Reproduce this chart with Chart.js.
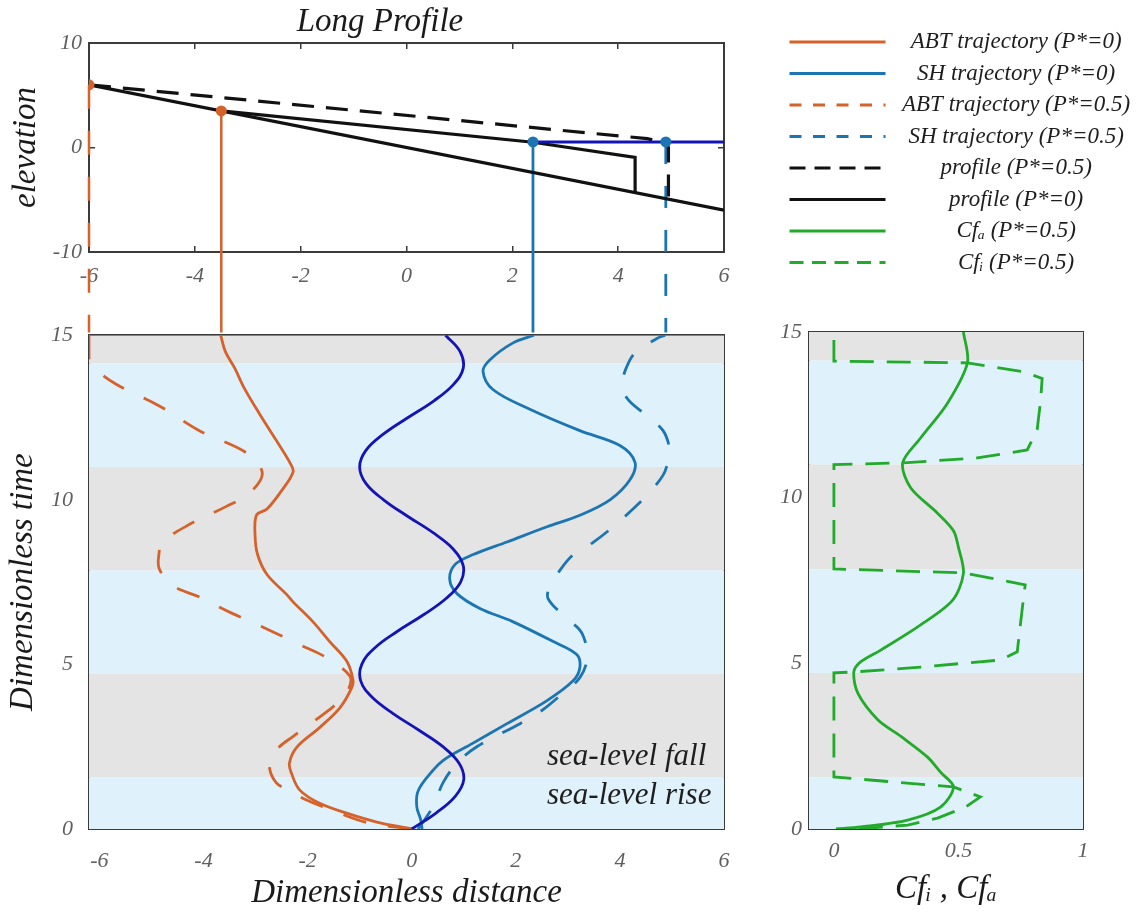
<!DOCTYPE html>
<html>
<head>
<meta charset="utf-8">
<title>Long profile and shoreline trajectories</title>
<script src="https://cdn.jsdelivr.net/npm/chart.js@4.4.1/dist/chart.umd.min.js"></script>
<style>
  html, body { margin: 0; padding: 0; background: #fff; }
  #wrap { position: relative; width: 1138px; height: 913px; overflow: hidden; }
  #wrap canvas { position: absolute; }
</style>
</head>
<body>
<div id="wrap">
  <canvas id="profile" width="760" height="345" style="left:0;top:0"></canvas>
  <canvas id="traj" width="760" height="613" style="left:0;top:300px"></canvas>
  <canvas id="cf" width="378" height="613" style="left:760px;top:300px"></canvas>
  <canvas id="legend" width="760" height="270" style="left:781px;top:22px"></canvas>
</div>
<script>
// ---- perfil longitudinal (painel de cima) ----
const profileTicksX = [-6, -4, -2, 0, 2, 4, 6];
const profileTicksY = [-10, 0, 10];
const basementX = [-6, 6];
const basementY = [6, -6];
const profile0X = [-3.5, 2.39, 4.32, 4.32];
const profile0Y = [3.5, 0.5, -0.95, -4.32];
const profile05X = [-6, 4.55, 4.9, 4.95, 4.95];
const profile05Y = [6, 0.85, 0.4, 0, -4.95];
const seaLineX = [2.39, 6];
const seaLineY = [0.53, 0.53];
const abtDotX = [-6, -3.5];     // P*=0.5 , P*=0
const abtDotY = [6, 3.5];
const shDotX = [2.39, 4.9];     // P*=0 , P*=0.5
const shDotY = [0.53, 0.53];
const dropTo = -17.7;           // elevação equivalente ao topo dos painéis de baixo

// ---- trajetórias (painel de baixo, esquerda) ----
const distTicks = [-6, -4, -2, 0, 2, 4, 6];
const timeTicks = [0, 5, 10, 15];
const bandEdges = [0, 1.57, 4.71, 7.85, 11.0, 14.14, 15];
const bandPhase = ['rise', 'fall', 'rise', 'fall', 'rise', 'fall'];

const abt0T = [0, 0.21, 0.48, 0.78, 1.18, 1.69, 2.0, 2.48, 3.08, 3.68, 4.3, 4.55, 5.1, 5.7, 6.3, 6.9, 7.12, 7.73, 8.33, 8.93, 9.54, 9.72, 10.32, 10.84, 11.1, 11.8, 12.6, 13.4, 14.0, 14.5, 15];
const abt0X = [0, -0.67, -1.25, -1.77, -2.15, -2.31, -2.35, -2.21, -1.77, -1.38, -1.15, -1.13, -1.25, -1.58, -1.9, -2.28, -2.4, -2.78, -2.96, -3.01, -2.98, -2.78, -2.48, -2.28, -2.33, -2.6, -2.92, -3.22, -3.4, -3.58, -3.67];

const abt05T = [0, 0.2, 0.63, 0.88, 1.2, 1.4, 1.84, 2.2, 2.5, 2.8, 3.4, 3.9, 4.3, 4.65, 5.2, 5.6, 6.2, 6.55, 6.9, 7.06, 7.4, 7.9, 8.3, 8.7, 9.2, 9.8, 10.2, 10.8, 11.4, 12.1, 12.85, 13.5, 13.95, 14.3, 15];
const abt05X = [0, -0.87, -1.63, -2.02, -2.4, -2.6, -2.73, -2.68, -2.54, -2.29, -1.77, -1.38, -1.2, -1.19, -1.63, -2.15, -2.95, -3.45, -3.9, -4.1, -4.6, -4.85, -4.86, -4.79, -4.33, -3.56, -3.12, -2.87, -3.15, -4.08, -4.85, -5.67, -6.06, -6.2, -6.2];

const sh0T = [0, 0.3, 0.65, 1.1, 1.5, 2.08, 2.6, 3.2, 3.9, 4.5, 4.9, 5.3, 5.7, 6.3, 6.7, 7.15, 7.58, 8.03, 8.33, 8.72, 9.18, 9.53, 10.0, 10.6, 11.14, 11.65, 12.1, 12.75, 13.35, 13.9, 14.25, 14.76, 15];
const sh0X = [0.2, 0.17, 0.1, 0.11, 0.26, 0.6, 1.17, 1.83, 2.6, 3.1, 3.23, 3.17, 2.71, 1.94, 1.31, 0.87, 0.73, 0.83, 1.17, 1.83, 2.6, 3.23, 3.81, 4.19, 4.29, 4.0, 3.23, 2.27, 1.56, 1.37, 1.5, 1.94, 2.35];

const sh05T = [0, 0.4, 0.78, 1.4, 2.0, 2.5, 3.2, 3.6, 4.05, 4.6, 5.2, 5.95, 6.4, 7.0, 7.4, 7.73, 8.3, 8.7, 9.18, 9.63, 10.14, 10.75, 11.2, 11.5, 12.1, 12.6, 13.1, 13.6, 14.0, 14.46, 14.9, 15];
const sh05X = [0.12, 0.3, 0.44, 0.6, 0.87, 1.25, 2.08, 2.5, 2.85, 3.23, 3.37, 3.27, 2.98, 2.62, 2.66, 2.79, 3.08, 3.48, 3.87, 4.19, 4.52, 4.83, 4.93, 4.96, 4.83, 4.48, 4.13, 4.06, 4.12, 4.29, 4.71, 4.87];

// nível do mar (curva azul escura)
const seaT = [0, 0.5, 1, 1.5, 2, 2.5, 3, 3.5, 4, 4.5, 5, 5.5, 6, 6.5, 7, 7.5, 8, 8.5, 9, 9.5, 10, 10.5, 11, 11.5, 12, 12.5, 13, 13.5, 14, 14.5, 15];
const seaX = [0, 0.48, 0.84, 1.0, 0.91, 0.6, 0.14, -0.35, -0.76, -0.98, -0.96, -0.71, -0.28, 0.22, 0.66, 0.94, 0.99, 0.8, 0.41, -0.08, -0.54, -0.88, -1.0, -0.88, -0.54, -0.07, 0.42, 0.8, 0.99, 0.93, 0.65];

// ---- Cf (painel de baixo, direita) ----
const cfTicks = [0, 0.5, 1];
const cfaT = [0, 0.06, 0.27, 0.66, 1.27, 1.7, 2.17, 2.8, 3.3, 4.1, 4.74, 5.05, 5.4, 6.1, 6.9, 7.72, 8.5, 9.0, 9.53, 10.3, 11.05, 11.8, 12.85, 14.07, 15];
const cfaX = [0.008, 0.108, 0.296, 0.428, 0.48, 0.43, 0.376, 0.268, 0.176, 0.096, 0.08, 0.108, 0.188, 0.336, 0.476, 0.52, 0.5, 0.48, 0.416, 0.308, 0.276, 0.348, 0.456, 0.536, 0.52];
const cfiT = [0, 0.12, 0.33, 0.66, 0.97, 1.27, 1.42, 1.57, 4.71, 4.74, 4.86, 5.1, 5.35, 6.9, 7.37, 7.73, 7.85, 11.0, 11.05, 11.2, 11.44, 12.05, 12.95, 13.6, 13.8, 14.07, 14.12, 15];
const cfiX = [0.1, 0.296, 0.416, 0.528, 0.588, 0.48, 0.24, 0, 0, 0.08, 0.308, 0.668, 0.736, 0.76, 0.768, 0.52, 0, 0, 0.28, 0.576, 0.776, 0.816, 0.83, 0.836, 0.76, 0.536, 0, 0];

// ---- legenda ----
const legendLabels = ['ABT trajectory (P*=0)', 'SH trajectory (P*=0)', 'ABT trajectory (P*=0.5)', 'SH trajectory (P*=0.5)', 'profile (P*=0.5)', 'profile (P*=0)', 'Cf\u2090 (P*=0.5)', 'Cf\u1d62 (P*=0.5)'];

// estilos
const ORANGE = '#d5622b';
const SHBLUE = '#1b75b3';
const SEABLUE = '#1414b4';
const GREEN = '#22aa2a';
const BLACK = '#111111';
const RISE_BG = '#dff1fa';
const FALL_BG = '#e4e4e4';
const AXIS = '#3b3b3b';
const SERIF = '"Liberation Serif", "Times New Roman", Times, serif';

Chart.defaults.font.family = SERIF;
Chart.defaults.font.style = 'italic';
Chart.defaults.color = '#5f5f5f';

const pts = (xs, ys) => xs.map((x, i) => ({ x: x, y: ys[i] }));

function axis(position, min, max, tickVals, size, opts) {
  opts = opts || {};
  const vertical = position === 'left' || position === 'right';
  return {
    type: 'linear', axis: vertical ? 'y' : 'x', position: position, min: min, max: max, z: 1,
    border: { display: true, color: AXIS, width: 2 },
    grid: { drawOnChartArea: false, drawTicks: true, tickLength: -6, color: AXIS, lineWidth: 1.5 },
    ticks: {
      display: !!opts.labels, color: '#5f5f5f', font: { size: 22 }, padding: opts.pad || 10,
      autoSkip: false, maxRotation: 0, callback: v => String(v)
    },
    title: opts.title || { display: false },
    afterBuildTicks: s => { s.ticks = tickVals.map(v => ({ value: v })); },
    afterFit: s => { if (vertical) s.width = size; else s.height = size; }
  };
}

function axisTitle(text, pad) {
  return { display: true, text: text, color: '#1a1a1a', font: { size: 33, lineHeight: 1, weight: 'normal' }, padding: pad };
}

function bandSets(xmin, xmax) {
  return bandPhase.map((ph, i) => ({
    data: [{ x: xmin, y: bandEdges[i + 1] }, { x: xmax, y: bandEdges[i + 1] }],
    borderWidth: 0, pointRadius: 0, tension: 0,
    fill: { value: bandEdges[i] },
    backgroundColor: ph === 'rise' ? RISE_BG : FALL_BG,
    order: 10
  }));
}

function curve(data, color, dash, extra) {
  return Object.assign({
    data: data, borderColor: color, borderWidth: 2.8, borderDash: dash || [],
    pointRadius: 0, tension: 0.35, fill: false, order: 1
  }, extra || {});
}

const baseOpts = {
  responsive: false, animation: false, events: [],
  layout: { padding: 0 },
  plugins: { legend: { display: false }, tooltip: { enabled: false } }
};

// painel de cima: perfil longitudinal
new Chart(document.getElementById('profile'), {
  type: 'line',
  data: {
    datasets: [
      { data: pts(abtDotX, abtDotY), showLine: false, pointRadius: 5.5, pointBackgroundColor: ORANGE, pointBorderWidth: 0, order: 0 },
      { data: pts(shDotX, shDotY), showLine: false, pointRadius: 5.5, pointBackgroundColor: SHBLUE, pointBorderWidth: 0, order: 0 },
      curve(pts(seaLineX, seaLineY), SEABLUE, [], { borderWidth: 3, tension: 0 }),
      curve(pts(profile05X, profile05Y), BLACK, [22, 12], { borderWidth: 3.2, tension: 0 }),
      curve(pts(profile0X, profile0Y), BLACK, [], { borderWidth: 3.2, tension: 0 }),
      curve(pts(basementX, basementY), BLACK, [], { borderWidth: 3.2, tension: 0 }),
      // linhas verticais até os painéis de baixo
      curve(pts([abtDotX[1], abtDotX[1]], [abtDotY[1], dropTo]), ORANGE, [], { borderWidth: 2.5, tension: 0, clip: false, order: 2 }),
      curve(pts([abtDotX[0], abtDotX[0]], [abtDotY[0], dropTo]), ORANGE, [24, 22], { borderWidth: 2.5, tension: 0, clip: false, order: 2 }),
      curve(pts([shDotX[0], shDotX[0]], [shDotY[0], dropTo]), SHBLUE, [], { borderWidth: 2.8, tension: 0, clip: false, order: 2 }),
      curve(pts([shDotX[1], shDotX[1]], [shDotY[1], dropTo]), SHBLUE, [22, 22], { borderWidth: 2.8, tension: 0, clip: false, order: 2 })
    ]
  },
  options: Object.assign({}, baseOpts, {
    plugins: {
      legend: { display: false }, tooltip: { enabled: false },
      title: {
        display: true, text: 'Long Profile', color: '#1a1a1a',
        font: { size: 33, lineHeight: 1, weight: 'normal' }, padding: { top: 6, bottom: 0 }
      }
    },
    scales: {
      x: axis('bottom', -6, 6, profileTicksX, 93, { labels: true, pad: 17 }),
      x2: axis('top', -6, 6, profileTicksX, 4),
      y: axis('left', -10, 10, profileTicksY, 89, { labels: true, pad: 13, title: axisTitle('elevation', { top: 10, bottom: 0 }) }),
      y2: axis('right', -10, 10, profileTicksY, 36)
    }
  })
});

// rótulos de subida/descida do nível do mar
const seaLabels = {
  id: 'seaLabels',
  afterDatasetsDraw(chart) {
    const { ctx, scales } = chart;
    ctx.save();
    ctx.font = 'italic 31px ' + SERIF;
    ctx.fillStyle = '#1e1e1e';
    ctx.textAlign = 'left';
    ctx.textBaseline = 'alphabetic';
    ctx.fillText('sea-level fall', scales.x.getPixelForValue(2.6), scales.y.getPixelForValue(1.93));
    ctx.fillText('sea-level rise', scales.x.getPixelForValue(2.6), scales.y.getPixelForValue(0.75));
    ctx.restore();
  }
};

// painel de baixo: trajetórias
new Chart(document.getElementById('traj'), {
  type: 'line',
  data: {
    datasets: bandSets(-6.2, 6).concat([
      curve(pts(seaX, seaT), SEABLUE, [], { tension: 0.4 }),
      curve(pts(abt0X, abt0T), ORANGE),
      curve(pts(abt05X, abt05T), ORANGE, [24, 22]),
      curve(pts(sh0X, sh0T), SHBLUE),
      curve(pts(sh05X, sh05T), SHBLUE, [22, 22])
    ])
  },
  options: Object.assign({}, baseOpts, {
    scales: {
      x: axis('bottom', -6.2, 6, distTicks, 84, { labels: true, pad: 25, title: axisTitle('Dimensionless distance', { top: 0, bottom: 3 }) }),
      x2: axis('top', -6.2, 6, distTicks, 32),
      y: axis('left', 0, 15, timeTicks, 89, { labels: true, pad: 22, title: axisTitle('Dimensionless time', { top: 7, bottom: 0 }) }),
      y2: axis('right', 0, 15, timeTicks, 36)
    }
  }),
  plugins: [seaLabels]
});

// painel de baixo à direita: Cf
new Chart(document.getElementById('cf'), {
  type: 'line',
  data: {
    datasets: bandSets(-0.1, 1).concat([
      curve(pts(cfaX, cfaT), GREEN, [], { tension: 0.3 }),
      curve(pts(cfiX, cfiT), GREEN, [24, 13], { tension: 0 })
    ])
  },
  options: Object.assign({}, baseOpts, {
    scales: {
      x: axis('bottom', -0.1, 1, cfTicks, 84, { labels: true, pad: 15, title: axisTitle('Cf\u1d62 , Cf\u2090', { top: 0, bottom: 7 }) }),
      x2: axis('top', -0.1, 1, cfTicks, 32),
      y: axis('left', 0, 15, timeTicks, 49, { labels: true, pad: 13 }),
      y2: axis('right', 0, 15, timeTicks, 55)
    }
  })
});

// legenda (a legenda lateral do Chart.js ocupa no máximo metade da largura do canvas)
const legendColors = [ORANGE, SHBLUE, ORANGE, SHBLUE, BLACK, BLACK, GREEN, GREEN];
const legendDashes = [[], [], [12, 11.5], [12, 11.5], [16, 9], [], [], [14, 8.5]];
new Chart(document.getElementById('legend'), {
  type: 'line',
  data: {
    datasets: legendLabels.map((label, i) => ({
      label: label, data: [], borderColor: legendColors[i], backgroundColor: legendColors[i],
      borderDash: legendDashes[i], borderWidth: 3.2
    }))
  },
  options: {
    responsive: false, animation: false, events: [],
    layout: { padding: 0 },
    scales: { x: { display: false }, y: { display: false } },
    plugins: {
      tooltip: { enabled: false },
      legend: {
        position: 'left', align: 'start',
        labels: {
          usePointStyle: true, pointStyle: 'line', pointStyleWidth: 96, boxHeight: 23,
          padding: 8.5, textAlign: 'center', color: '#1e1e1e', font: { size: 23 },
          // com usePointStyle o Chart.js lê o estilo do ponto; aqui o traço vem da linha
          generateLabels: chart => chart.data.datasets.map((ds, i) => ({
            text: ds.label, datasetIndex: i, hidden: false,
            strokeStyle: ds.borderColor, fillStyle: ds.borderColor,
            lineWidth: ds.borderWidth, lineDash: ds.borderDash, lineCap: 'butt',
            pointStyle: 'line', fontColor: '#1e1e1e'
          }))
        }
      }
    }
  }
});
</script>
</body>
</html>
